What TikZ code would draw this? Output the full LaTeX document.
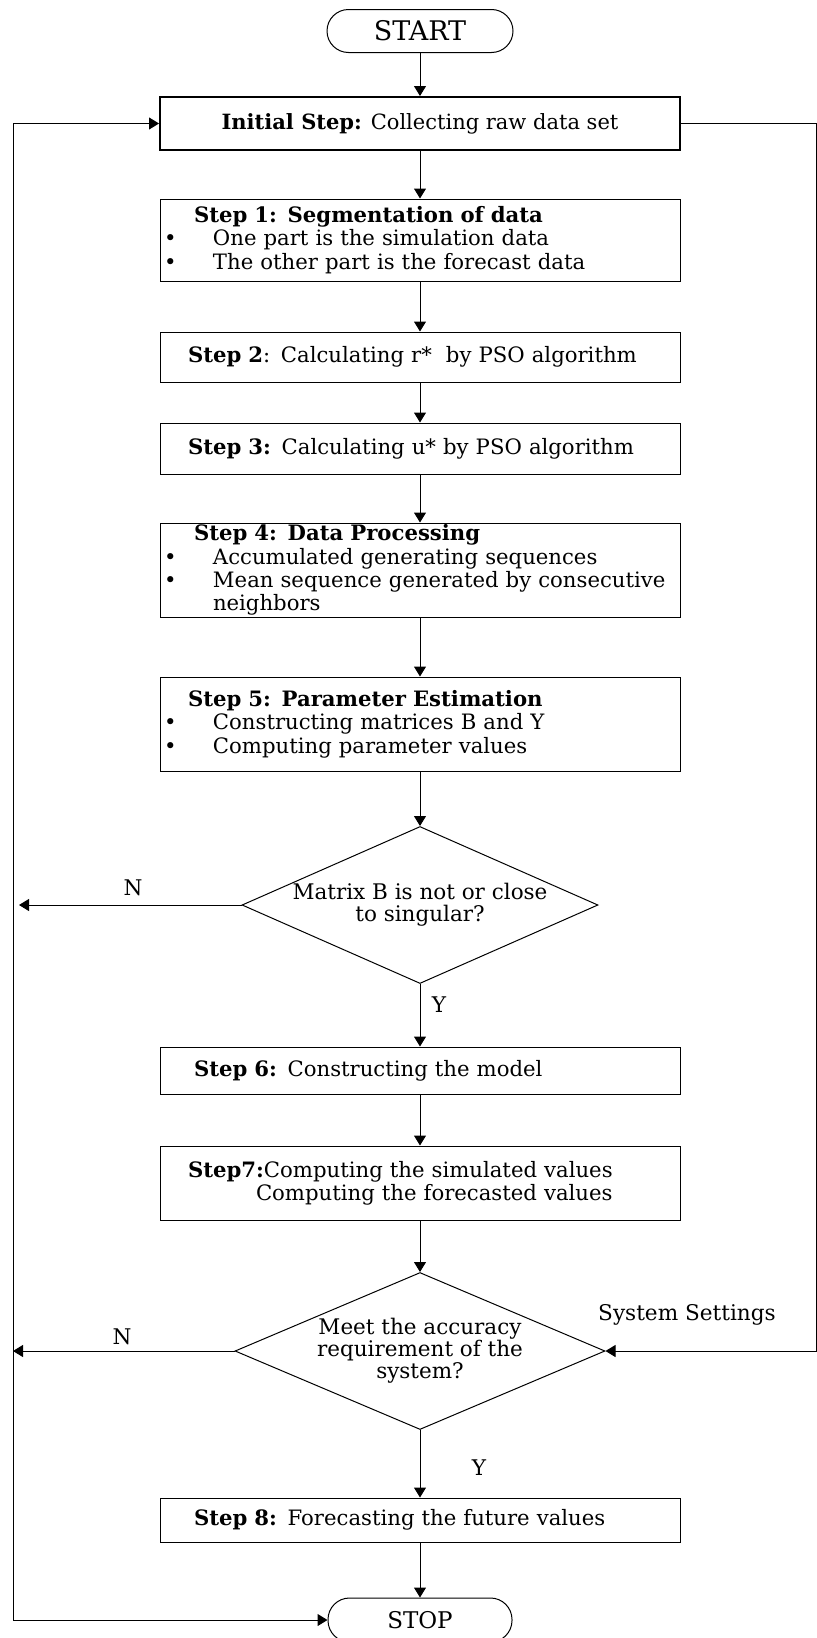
\documentclass[tikz,border=0pt]{standalone}
\usepackage{fontspec}
\setmainfont{DejaVu Serif}
\usetikzlibrary{arrows.meta, shapes.geometric}
\tikzset{>={Triangle[length=5pt,width=6pt]}}
\tikzset{
  stepbox/.style={draw, text width=256pt, align=left, inner xsep=2pt, inner ysep=0pt,
    font=\fontsize{10.6}{11.7}\selectfont},
  initbox/.style={draw, line width=1pt, minimum width=260pt, minimum height=26.5pt,
    align=center, font=\fontsize{10.5}{11.7}\selectfont},
  term/.style={draw, rounded corners=10.75pt, minimum width=93pt, minimum height=21.5pt,
    font=\fontsize{13.5}{15}\selectfont},
  decision/.style={draw, diamond, inner sep=0pt, align=center,
    font=\fontsize{10.75}{11}\selectfont},
  lbl/.style={font=\fontsize{10.8}{12}\selectfont}
}
\newcommand{\itemdot}{\makebox[24.5pt][l]{\textbullet}}

\begin{document}
\begin{tikzpicture}[x=0.5pt, y=-0.5pt, line width=0.5pt]
    \useasboundingbox (0,0) rectangle (817,1638);
    % start / stop
    \node [term] (start) at (420,31) {START};
    \node [term, minimum width=92pt, minimum height=22pt, font=\fontsize{11.5}{13}\selectfont] (stop) at (420,1620) {STOP};
    % steps
    \node [initbox] (init) at (420,123.5) {\textbf{Initial Step:} Collecting raw data set};
    \node [stepbox, minimum height=41pt] (s1) at (420,240) {\hspace*{15pt}\textbf{Step 1: Segmentation of data}\\
        \itemdot One part is the simulation data\\
        \itemdot The other part is the forecast data};
    \node [stepbox, minimum height=25pt] (s2) at (420,357) {\hspace*{12pt}\textbf{Step 2}: Calculating r*~ by PSO algorithm};
    \node [stepbox, minimum height=25.5pt] (s3) at (420,448.5) {\hspace*{12pt}\textbf{Step 3:} Calculating u* by PSO algorithm};
    \node [stepbox, minimum height=47pt] (s4) at (420,570) {\hspace*{15pt}\textbf{Step 4: Data Processing}\\
        \itemdot Accumulated generating sequences\\
        \itemdot Mean sequence generated by consecutive\\
        \hspace*{24.5pt}neighbors};
    \node [stepbox, minimum height=47pt] (s5) at (420,724) {\hspace*{12pt}\textbf{Step 5: Parameter Estimation}\\
        \itemdot Constructing matrices B and Y\\
        \itemdot Computing parameter values};
    \node [decision, aspect=2.27, minimum width=178pt, minimum height=78.5pt] (d1) at (420,905) {Matrix B is not or close\\to singular?};
    \node [stepbox, minimum height=23.5pt] (s6) at (420,1070.5) {\hspace*{15pt}\textbf{Step 6:} Constructing the model};
    \node [stepbox, minimum height=37pt] (s7) at (420,1183) {\hspace*{12pt}\textbf{Step7:}Computing the simulated values\\
        \hspace*{46pt}Computing the forecasted values};
    \node [decision, aspect=2.36, minimum width=185pt, minimum height=78.5pt] (d2) at (420,1351) {Meet the accuracy\\requirement of the\\system?};
    \node [stepbox, minimum height=22pt] (s8) at (420,1520) {\hspace*{15pt}\textbf{Step 8:} Forecasting the future values};
    % labels
    \node [lbl] (n1) at (133,888) {N};
    \node [lbl] (y1) at (439,1005) {Y};
    \node [lbl] (n2) at (122,1337) {N};
    \node [lbl] (y2) at (479,1468) {Y};
    \node [lbl] (sys) at (687,1315) {System Settings};
    % corners of the feedback lines
    \coordinate (lt) at (13,123.5);
    \coordinate (lb) at (13,1620);
    \coordinate (rt) at (816,123.5);
    \coordinate (rb) at (816,1351);
    \coordinate (n1end) at (19,905);
    \coordinate (n2end) at (13,1351);
    % main flow
    \draw [->] (start) -- (init);
    \draw [->] (init) -- (s1);
    \draw [->] (s1) -- (s2);
    \draw [->] (s2) -- (s3);
    \draw [->] (s3) -- (s4);
    \draw [->] (s4) -- (s5);
    \draw [->] (s5) -- (d1);
    \draw [->] (d1) -- (s6);
    \draw [->] (s6) -- (s7);
    \draw [->] (s7) -- (d2);
    \draw [->] (d2) -- (s8);
    \draw [->] (s8) -- (stop);
    % branches
    \draw [->] (d1.west) -- (n1end);
    \draw [->] (d2.west) -- (n2end);
    \draw [<->] (init.west) -- (lt) -- (lb) -- (stop.west);
    \draw [->] (init.east) -- (rt) -- (rb) -- (d2.east);
\end{tikzpicture}
\end{document}
